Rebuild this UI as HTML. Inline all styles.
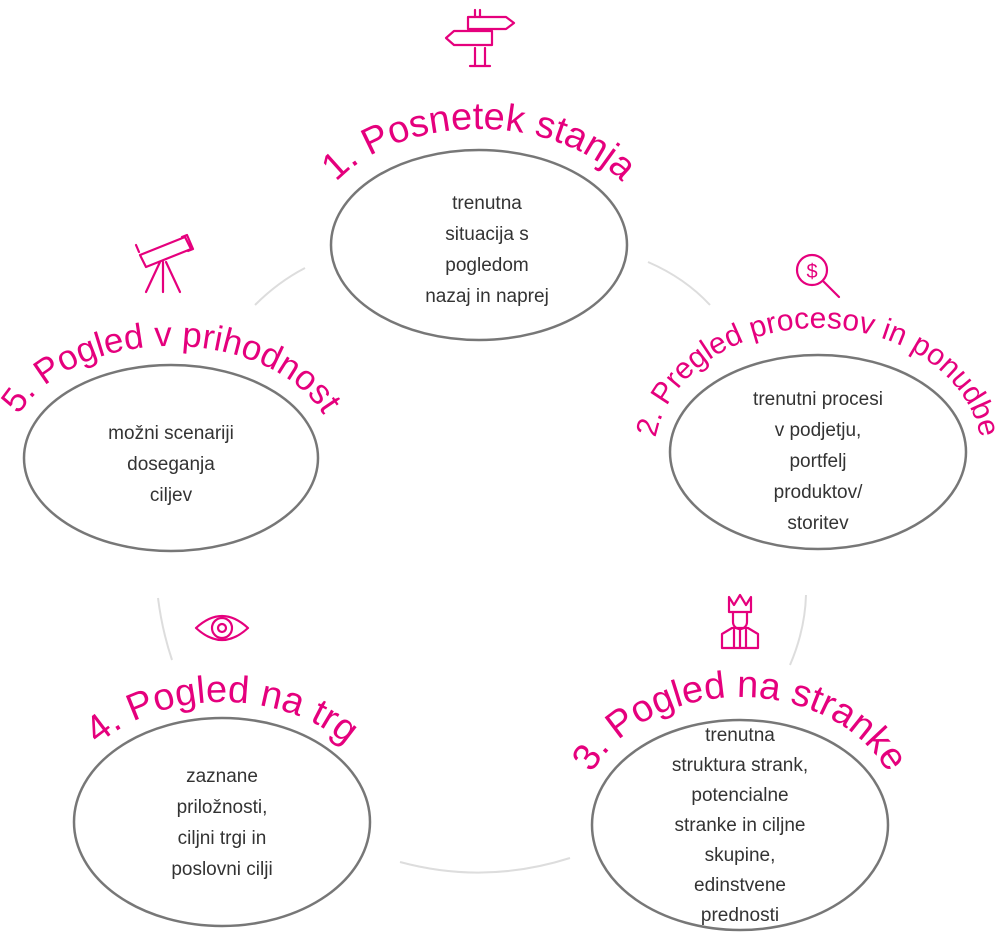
<!DOCTYPE html>
<html><head><meta charset="utf-8"><style>
html,body{margin:0;padding:0;background:#fff;}
svg{display:block;}
.t{font-family:"Liberation Sans",sans-serif;fill:#e5007d;}
.b{font-family:"Liberation Sans",sans-serif;fill:#333;font-size:19px;text-anchor:middle;}
.c{fill:none;stroke:#777;stroke-width:2.5;}
.l{fill:none;stroke:#ddd;stroke-width:2;}
.i{fill:none;stroke:#e5007d;stroke-width:2.2;stroke-linejoin:round;stroke-linecap:round;}
</style></head><body>
<svg width="998" height="943" viewBox="0 0 998 943" xmlns="http://www.w3.org/2000/svg">
<defs>
<path id="p1" d="M 309,245 A 170,116 0 0 1 649,245"/>
<path id="p2" d="M 654,456 A 164,128 0 0 1 982,456"/>
<path id="p3" d="M 578,825 A 162,128 0 0 1 902,825"/>
<path id="p4" d="M 60,822 A 162,120 0 0 1 384,822"/>
<path id="p5" d="M 6,458 A 165,112 0 0 1 336,458"/>
</defs>
<path class="l" d="M255,305 Q278,282 305,268"/>
<path class="l" d="M648,262 Q685,278 710,305"/>
<path class="l" d="M806,595 Q805,630 790,665"/>
<path class="l" d="M400,862 Q485,885 570,858"/>
<path class="l" d="M158,598 Q162,630 172,660"/>
<ellipse class="c" cx="479" cy="245" rx="148" ry="95"/>
<ellipse class="c" cx="818" cy="452" rx="148" ry="97"/>
<ellipse class="c" cx="740" cy="825" rx="148" ry="105"/>
<ellipse class="c" cx="222" cy="822" rx="148" ry="104"/>
<ellipse class="c" cx="171" cy="458" rx="147" ry="93"/>
<text class="t" font-size="38"><textPath href="#p1" startOffset="50%" text-anchor="middle">1. Posnetek stanja</textPath></text>
<text class="t" font-size="30"><textPath href="#p2" startOffset="50%" text-anchor="middle">2. Pregled procesov in ponudbe</textPath></text>
<text class="t" font-size="38"><textPath href="#p3" startOffset="50%" text-anchor="middle">3. Pogled na stranke</textPath></text>
<text class="t" font-size="38"><textPath href="#p4" startOffset="50%" text-anchor="middle">4. Pogled na trg</textPath></text>
<text class="t" font-size="35"><textPath href="#p5" startOffset="50%" text-anchor="middle">5. Pogled v prihodnost</textPath></text>
<text class="b"><tspan x="487" y="209">trenutna</tspan><tspan x="487" y="240">situacija s</tspan><tspan x="487" y="271">pogledom</tspan><tspan x="487" y="302">nazaj in naprej</tspan></text>
<text class="b"><tspan x="818" y="405">trenutni procesi</tspan><tspan x="818" y="436">v podjetju,</tspan><tspan x="818" y="467">portfelj</tspan><tspan x="818" y="498">produktov/</tspan><tspan x="818" y="529">storitev</tspan></text>
<text class="b"><tspan x="740" y="741">trenutna</tspan><tspan x="740" y="771">struktura strank,</tspan><tspan x="740" y="801">potencialne</tspan><tspan x="740" y="831">stranke in ciljne</tspan><tspan x="740" y="861">skupine,</tspan><tspan x="740" y="891">edinstvene</tspan><tspan x="740" y="921">prednosti</tspan></text>
<text class="b"><tspan x="222" y="782">zaznane</tspan><tspan x="222" y="813">priložnosti,</tspan><tspan x="222" y="844">ciljni trgi in</tspan><tspan x="222" y="875">poslovni cilji</tspan></text>
<text class="b"><tspan x="171" y="439">možni scenariji</tspan><tspan x="171" y="470">doseganja</tspan><tspan x="171" y="501">ciljev</tspan></text>
<g class="i">
<path d="M475,10 v7 M475,48 v18 M485,48 v18 M470,66 h20 M480,10 v7"/>
<path d="M468,17 h38 l8,6 l-8,6 h-38 z"/>
<path d="M492,31 h-38 l-8,7 l8,7 h38 z"/>
</g>
<g class="i">
<circle cx="812" cy="270" r="15"/>
<path d="M823,281 l16,16"/>
<text x="812" y="278" font-size="20" text-anchor="middle" style="fill:#e5007d;stroke:none;font-family:'Liberation Sans',sans-serif">$</text>
</g>
<g class="i">
<path d="M729,597 l5,8 l6,-10 l6,10 l5,-8 v15 h-22 z"/>
<path d="M733,612 v10 a7,7 0 0 0 14,0 v-10"/>
<path d="M722,648 v-14 l10,-6 h16 l10,6 v14 z M740,630 v18 M734,630 v18 M746,630 v18"/>
</g>
<g class="i">
<path d="M196,628 q26,-24 52,0 q-26,24 -52,0 z"/>
<circle cx="222" cy="628" r="10"/>
<circle cx="222" cy="628" r="4"/>
</g>
<g class="i">
<path d="M140,255 l45,-18 l6,12 l-45,18 z M182,237 l5,-2 l6,14 l-5,2"/>
<path d="M160,262 l-14,30 M163,262 v30 M166,262 l14,30"/>
<path d="M139,252 l-3,-7"/>
</g>
</svg>
</body></html>
